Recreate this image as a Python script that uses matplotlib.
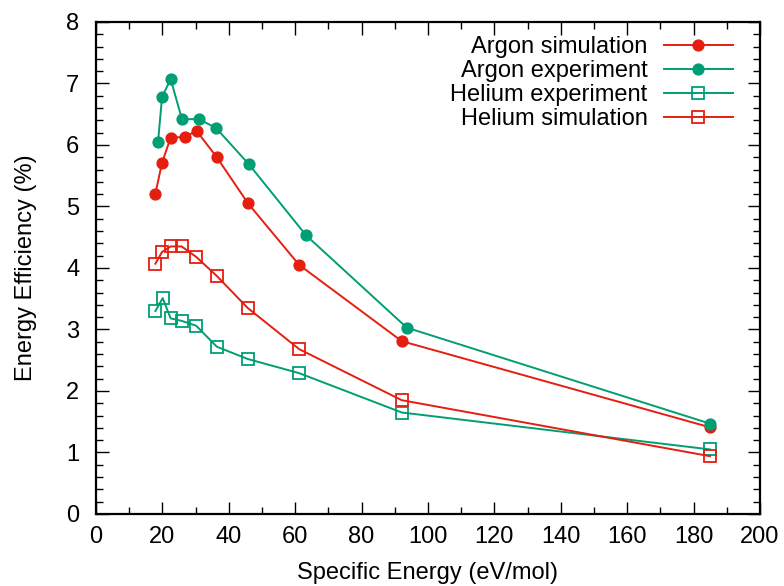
import matplotlib
matplotlib.use("Agg")
import matplotlib.pyplot as plt
from matplotlib.ticker import MultipleLocator

plt.rcParams["font.family"] = ["Liberation Sans", "DejaVu Sans"]
plt.rcParams["font.size"] = 17

RED = "#e51e10"
GREEN = "#009e73"

# specific energy (eV/mol) for each measurement
argon_sim_x = [17.9, 19.9, 22.5, 26.7, 30.3, 36.4, 45.8, 61.2, 92.1, 184.9]
argon_sim_y = [5.21, 5.71, 6.12, 6.13, 6.23, 5.80, 5.05, 4.05, 2.81, 1.41]

argon_exp_x = [18.7, 19.9, 22.5, 25.9, 30.9, 36.1, 46.0, 63.3, 93.6, 184.9]
argon_exp_y = [6.05, 6.78, 7.07, 6.42, 6.42, 6.28, 5.69, 4.53, 3.03, 1.47]

helium_exp_x = [17.9, 20.1, 22.5, 25.8, 30.2, 36.4, 45.7, 61.2, 92.1, 184.9]
helium_exp_y = [3.30, 3.51, 3.18, 3.14, 3.06, 2.72, 2.52, 2.29, 1.65, 1.05]

helium_sim_x = [17.9, 19.9, 22.5, 25.8, 30.2, 36.4, 45.7, 61.2, 92.1, 184.9]
helium_sim_y = [4.07, 4.26, 4.35, 4.35, 4.18, 3.87, 3.35, 2.68, 1.85, 0.94]

fig = plt.figure(figsize=(7.84, 5.86), dpi=100)
ax = fig.add_axes([0.1224, 0.1229, 0.8470, 0.8396])

line_kw = dict(linewidth=1.4)
ax.plot(argon_sim_x, argon_sim_y, color=RED, marker="o", markersize=7.8,
        label="Argon simulation", **line_kw)
ax.plot(argon_exp_x, argon_exp_y, color=GREEN, marker="o", markersize=7.8,
        label="Argon experiment", **line_kw)
ax.plot(helium_exp_x, helium_exp_y, color=GREEN, marker="s", markersize=8,
        markerfacecolor="none", markeredgewidth=1.3,
        label="Helium experiment", **line_kw)
ax.plot(helium_sim_x, helium_sim_y, color=RED, marker="s", markersize=8,
        markerfacecolor="none", markeredgewidth=1.3,
        label="Helium simulation", **line_kw)

ax.set_xlim(0, 200)
ax.set_ylim(0, 8)
ax.xaxis.set_major_locator(MultipleLocator(20))
ax.xaxis.set_minor_locator(MultipleLocator(10))
ax.yaxis.set_major_locator(MultipleLocator(1))
ax.yaxis.set_minor_locator(MultipleLocator(0.2))
ax.tick_params(which="both", direction="in", top=True, right=True, width=1.0)
ax.tick_params(which="major", length=9)
ax.tick_params(which="minor", length=5)
ax.tick_params(axis="y", which="major", pad=12)
ax.tick_params(axis="x", which="major", pad=9)
for side in ax.spines.values():
    side.set_linewidth(1.6)

ax.set_xlabel("Specific Energy (eV/mol)", labelpad=10)
ax.set_ylabel("Energy Efficiency (%)", labelpad=21)

leg = ax.legend(loc="upper right", frameon=False, markerfirst=False,
                handlelength=2.9, handletextpad=0.7, labelspacing=0.08,
                borderaxespad=0.2, bbox_to_anchor=(0.98, 1.0))
# right-align the legend rows so the samples line up
for col in leg._legend_handle_box.get_children():
    col.align = "right"

fig.savefig("out.png", dpi=100)
